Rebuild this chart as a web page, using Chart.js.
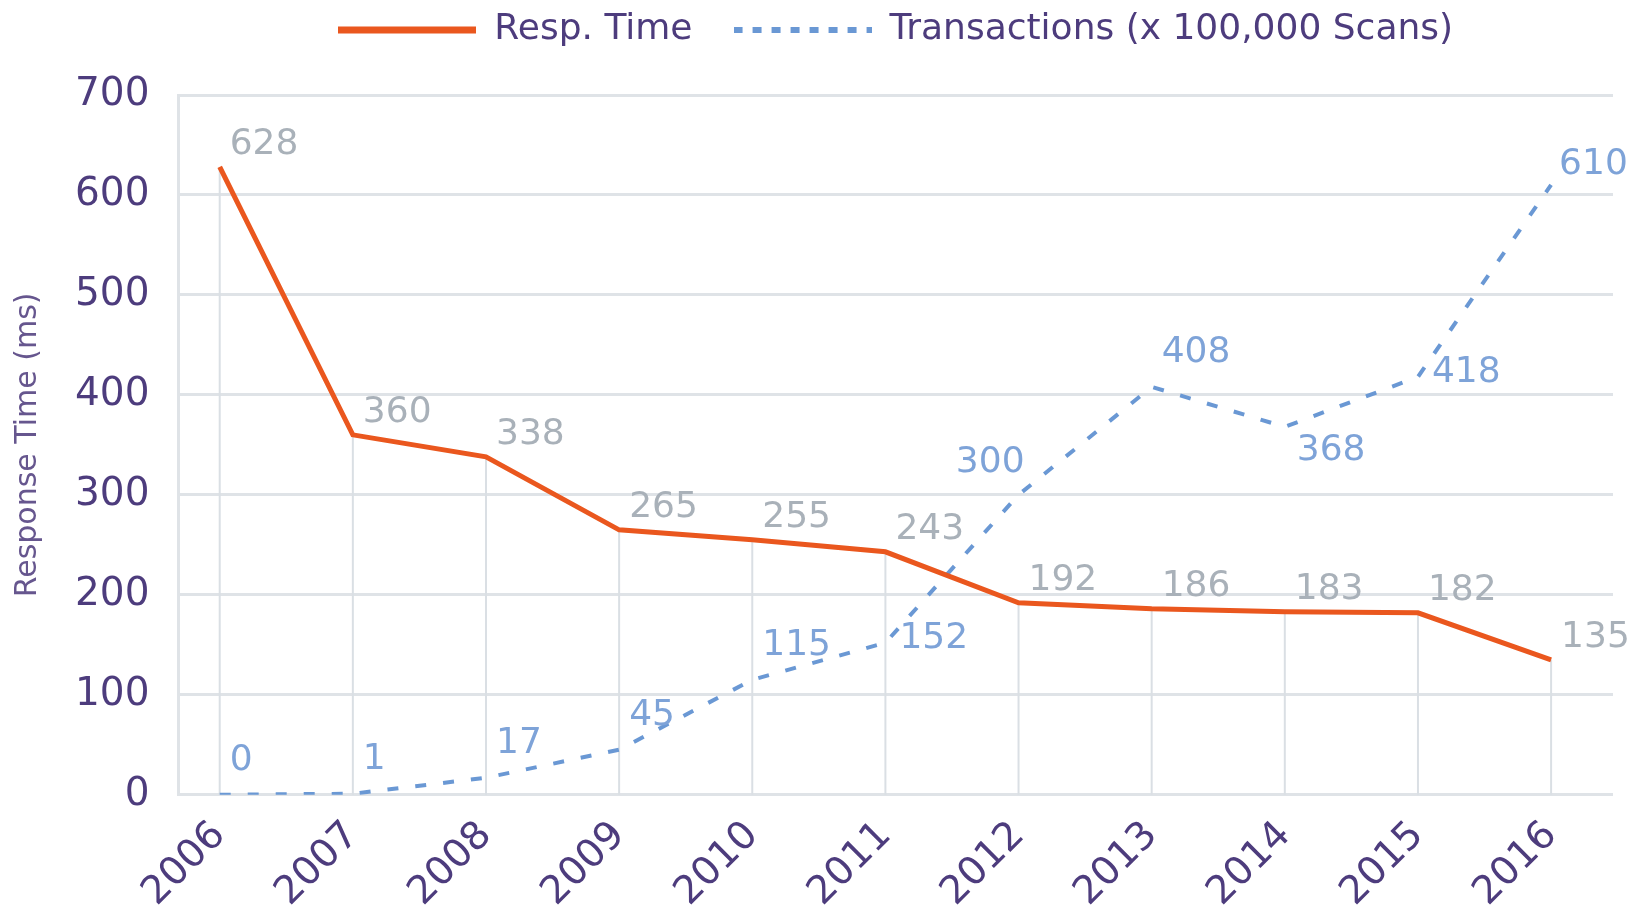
<!DOCTYPE html>
<html>
<head>
<meta charset="utf-8">
<script src="https://cdn.jsdelivr.net/npm/chart.js@4"></script>
<style>
    body { margin: 0; background: #ffffff; }
    #wrap { width: 1642px; height: 908px; position: relative; }
</style>
</head>
<body>
<div id="wrap"><canvas id="chart"></canvas></div>
<script>
// values
var years = [2006, 2007, 2008, 2009, 2010, 2011, 2012, 2013, 2014, 2015, 2016];
var respTime = [628, 360, 338, 265, 255, 243, 192, 186, 183, 182, 135];
var transactions = [0, 1, 17, 45, 115, 152, 300, 408, 368, 418, 610];
var yTicks = [0, 100, 200, 300, 400, 500, 600, 700];

var purple = '#4d3c7d';
var orange = '#ea571e';
var blue = '#6a98d4';
Chart.defaults.font.family = '"DejaVu Sans", sans-serif';

// little line samples for the legend
function legendLine(color, width, dash)
{
    var c = document.createElement('canvas');
    c.width = 138;
    c.height = 8;
    var g = c.getContext('2d');
    g.strokeStyle = color;
    g.lineWidth = width;
    g.setLineDash(dash);
    g.beginPath();
    g.moveTo(0, 4);
    g.lineTo(138, 4);
    g.stroke();
    return c;
}

// vertical lines from each response time point down to the axis
var dropLines = {
    id: 'dropLines',
    beforeDatasetsDraw: function(chart) {
        var ctx = chart.ctx,
            meta = chart.getDatasetMeta(0),
            base = chart.scales.y.getPixelForValue(0);
        ctx.save();
        ctx.strokeStyle = '#dadfe4';
        ctx.lineWidth = 2;
        meta.data.forEach(function(pt) {
            ctx.beginPath();
            ctx.moveTo(pt.x, pt.y);
            ctx.lineTo(pt.x, base);
            ctx.stroke();
        });
        ctx.restore();
    }
};

// value labels next to the points
var valueLabels = {
    id: 'valueLabels',
    afterDatasetsDraw: function(chart) {
        var ctx = chart.ctx;
        chart.data.datasets.forEach(function(ds, i) {
            var meta = chart.getDatasetMeta(i);
            ctx.save();
            ctx.font = '36px "DejaVu Sans"';
            ctx.fillStyle = ds.labelColor;
            ctx.textBaseline = 'middle';
            meta.data.forEach(function(pt, j) {
                var align = ds.labelAlign[j],
                    txt = String(ds.data[j].y);
                if (align === 'r') {
                    ctx.textAlign = 'left';
                    ctx.fillText(txt, pt.x + 14, pt.y - 4);
                } else if (align === 'ur') {
                    ctx.textAlign = 'left';
                    ctx.fillText(txt, pt.x + 8, pt.y - 20);
                } else if (align === 'br') {
                    ctx.textAlign = 'left';
                    ctx.fillText(txt, pt.x + 12, pt.y + 24);
                } else if (align === 'tl') {
                    ctx.textAlign = 'right';
                    ctx.fillText(txt, pt.x + 6, pt.y - 32);
                } else {
                    ctx.textAlign = 'left';
                    ctx.fillText(txt, pt.x + 10, pt.y + ds.labelDy);
                }
            });
            ctx.restore();
        });
    }
};

// extra room under the legend
var legendGap = {
    id: 'legendGap',
    beforeInit: function(chart) {
        var fit = chart.legend.fit;
        chart.legend.fit = function() {
            fit.bind(chart.legend)();
            this.height += 37;
        };
    }
};

var ctx = document.getElementById('chart');
new Chart(ctx, {
    type: 'line',
    data: {
        datasets: [{
            label: 'Resp. Time',
            data: respTime.map(function(v, i) { return {x: years[i], y: v}; }),
            borderColor: orange,
            backgroundColor: orange,
            borderWidth: 5,
            pointRadius: 0,
            pointStyle: legendLine(orange, 7, []),
            tension: 0,
            order: 1,
            labelColor: '#a9b1b9',
            labelDy: -22,
            labelAlign: years.map(function() { return 'tr'; })
        }, {
            label: 'Transactions (x 100,000 Scans)',
            data: transactions.map(function(v, i) { return {x: years[i], y: v}; }),
            borderColor: blue,
            backgroundColor: blue,
            borderWidth: 4,
            borderDash: [11, 17],
            pointRadius: 0,
            pointStyle: legendLine(blue, 6, [9, 10]),
            tension: 0,
            order: 2,
            labelColor: '#7ea3d8',
            labelDy: -34,
            labelAlign: ['tr', 'tr', 'tr', 'tr', 'tr', 'r', 'tl', 'tr', 'br', 'r', 'ur']
        }]
    },
    options: {
        responsive: true,
        maintainAspectRatio: false,
        animation: false,
        layout: { padding: { left: 0, right: 29, top: -29, bottom: -18 } },
        plugins: {
            tooltip: { enabled: false },
            legend: {
                position: 'top',
                fullSize: false,
                labels: {
                    usePointStyle: true,
                    pointStyleWidth: 138,
                    padding: 41,
                    color: purple,
                    font: { size: 36 }
                }
            }
        },
        scales: {
            x: {
                type: 'linear',
                min: 2005.69,
                max: 2016.465,
                afterBuildTicks: function(axis) {
                    axis.ticks = years.map(function(v) { return {value: v}; });
                },
                grid: { display: false },
                border: { display: false },
                ticks: {
                    color: purple,
                    font: { size: 39 },
                    minRotation: 45,
                    maxRotation: 45,
                    padding: 10,
                    callback: function(v) { return String(v); }
                }
            },
            y: {
                min: 0,
                max: 700,
                afterBuildTicks: function(axis) {
                    axis.ticks = yTicks.map(function(v) { return {value: v}; });
                },
                grid: { color: '#dfe3e7', lineWidth: 3, drawTicks: false },
                border: { display: true, color: '#dfe3e7', width: 3 },
                ticks: {
                    color: purple,
                    font: { size: 39 },
                    padding: 29
                },
                title: {
                    display: true,
                    text: 'Response Time (ms)',
                    color: '#66568e',
                    font: { size: 30 },
                    padding: { top: 10, bottom: 0 }
                }
            }
        }
    },
    plugins: [dropLines, valueLabels, legendGap]
});
</script>
</body>
</html>
